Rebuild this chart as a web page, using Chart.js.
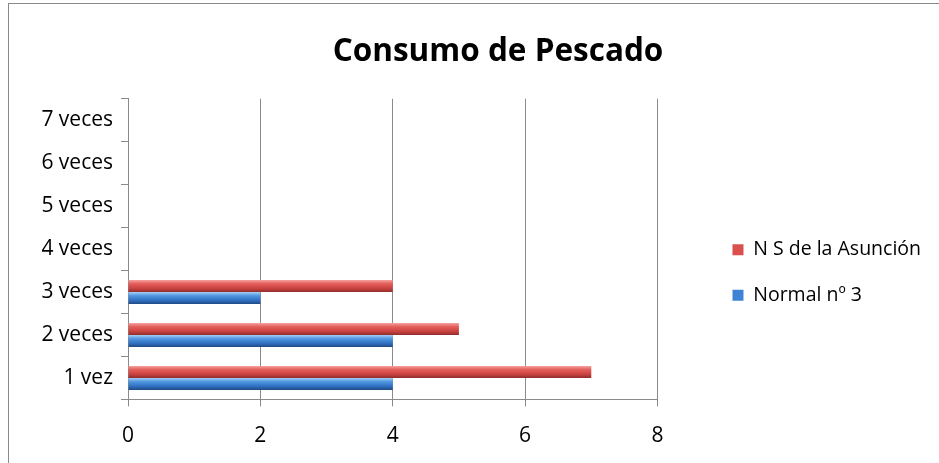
<!DOCTYPE html>
<html>
<head>
<meta charset="utf-8">
<script src="https://cdn.jsdelivr.net/npm/chart.js@4"></script>
<style>
  html, body { margin: 0; padding: 0; background: #fff; overflow: hidden; }
  #wrap { position: relative; width: 939px; height: 463px; }
  #frame { position: absolute; left: 8px; top: 3px; width: 1000px; height: 600px; border: 1px solid #8a8a8a; box-sizing: border-box; pointer-events: none; }
  canvas { position: absolute; left: 0; top: 0; }
</style>
</head>
<body>
<div id="wrap">
  <div id="frame"></div>
  <canvas id="chart" width="939" height="463"></canvas>
</div>
<script>
// categorías (de abajo hacia arriba)
const categorias = ['1 vez', '2 veces', '3 veces', '4 veces', '5 veces', '6 veces', '7 veces'];
// series
const asuncion = [7, 5, 4, 0, 0, 0, 0];
const normal3 = [4, 4, 2, 0, 0, 0, 0];
const ticksX = [0, 2, 4, 6, 8];

const FONT = "'Open Sans', 'DejaVu Sans', sans-serif";

const colores = {
  rojo: ['#f6a3a1', '#e4605d', '#c9423f', '#8f2e2c'],
  azul: ['#a6d0f6', '#5298e2', '#2f6fc0', '#1f4a82']
};

// degradado vertical en cada barra
const degradado = {
  id: 'degradado',
  afterLayout(chart) {
    // el título va centrado en el marco, que sigue más allá del borde derecho
    chart.titleBlock.left = 57;
    chart.titleBlock.right = 939;
  },
  beforeDatasetsDraw(chart) {
    const ctx = chart.ctx;
    chart.data.datasets.forEach((ds, i) => {
      const meta = chart.getDatasetMeta(i);
      const c = colores[ds.tono];
      meta.data.forEach(el => {
        const top = el.y - el.height / 2;
        const g = ctx.createLinearGradient(0, top, 0, top + el.height);
        g.addColorStop(0, c[0]);
        g.addColorStop(0.3, c[1]);
        g.addColorStop(0.7, c[2]);
        g.addColorStop(1, c[3]);
        el.options = Object.assign({}, el.options, { backgroundColor: g });
      });
    });
  }
};

new Chart(document.getElementById('chart'), {
  type: 'bar',
  data: {
    labels: categorias,
    datasets: [
      { label: 'N S de la Asunción', data: asuncion, tono: 'rojo', backgroundColor: '#d9504d' },
      { label: 'Normal nº 3', data: normal3, tono: 'azul', backgroundColor: '#3f84d4' }
    ]
  },
  options: {
    indexAxis: 'y',
    responsive: false,
    animation: false,
    categoryPercentage: 0.56,
    barPercentage: 1,
    layout: { padding: { left: 0, right: 8, top: 0, bottom: -2 } },
    scales: {
      y: {
        reverse: true,
        afterFit(s) { s.width = 128; },
        grid: { display: true, drawOnChartArea: false, offset: true, color: '#8a8a8a', tickLength: 7 },
        border: { color: '#8a8a8a' },
        ticks: { color: '#000', padding: 8, font: { family: FONT, size: 21 } }
      },
      x: {
        min: 0, max: 8,
        afterBuildTicks(s) { s.ticks = ticksX.map(v => ({ value: v })); },
        grid: { color: '#8a8a8a', tickLength: 7 },
        border: { color: '#8a8a8a' },
        ticks: { color: '#000', padding: 23, font: { family: FONT, size: 21, lineHeight: 0.6 } }
      },
      hueco: {
        axis: 'y', type: 'linear', position: 'right', display: true,
        afterFit(s) { s.width = 49; },
        grid: { display: false }, border: { display: false }, ticks: { display: false }
      }
    },
    plugins: {
      title: {
        display: true, text: 'Consumo de Pescado', color: '#000',
        font: { family: FONT, size: 31.5, weight: 'bold' },
        padding: { top: 33, bottom: 28 }
      },
      legend: {
        position: 'right',
        maxWidth: 300,
        title: { display: true, text: ' ', font: { size: 10 }, padding: 34 },
        labels: { color: '#000', boxWidth: 11, boxHeight: 11, padding: 26, font: { family: FONT, size: 19.5 } }
      },
      tooltip: { enabled: false }
    }
  },
  plugins: [degradado]
});
</script>
</body>
</html>
